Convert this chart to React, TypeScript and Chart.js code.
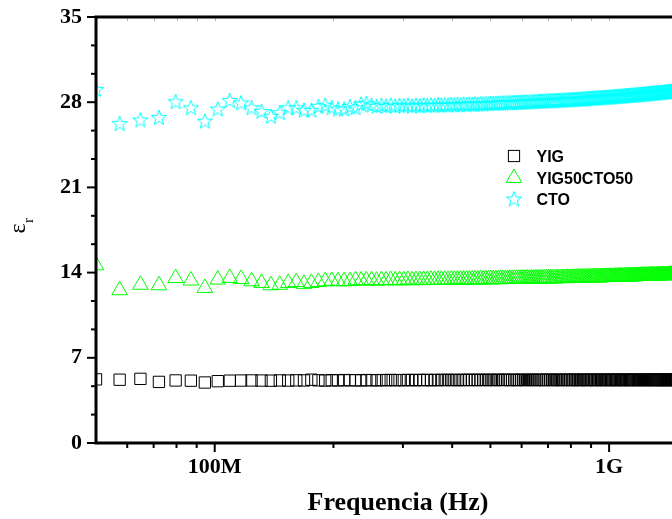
import React, { useEffect, useRef } from 'react';
import { Chart, registerables } from 'chart.js';

Chart.register(...registerables);

// Measurement frequencies (MHz) of the linear sweep visible in the plot
const freqMHz = [
  50.0, 57.4, 64.8, 72.2, 79.6, 87.0, 94.4, 101.8, 109.2, 116.6,
  124.0, 131.4, 138.8, 146.2, 153.6, 161.0, 168.4, 175.8, 183.2, 190.6,
  198.0, 205.4, 212.8, 220.2, 227.6, 235.0, 242.4, 249.8, 257.2, 264.6,
  272.0, 279.4, 286.8, 294.2, 301.6, 309.0, 316.4, 323.8, 331.2, 338.6,
  346.0, 353.4, 360.8, 368.2, 375.6, 383.0, 390.4, 397.8, 405.2, 412.6,
  420.0, 427.4, 434.8, 442.2, 449.6, 457.0, 464.4, 471.8, 479.2, 486.6,
  494.0, 501.4, 508.8, 516.2, 523.6, 531.0, 538.4, 545.8, 553.2, 560.6,
  568.0, 575.4, 582.8, 590.2, 597.6, 605.0, 612.4, 619.8, 627.2, 634.6,
  642.0, 649.4, 656.8, 664.2, 671.6, 679.0, 686.4, 693.8, 701.2, 708.6,
  716.0, 723.4, 730.8, 738.2, 745.6, 753.0, 760.4, 767.8, 775.2, 782.6,
  790.0, 797.4, 804.8, 812.2, 819.6, 827.0, 834.4, 841.8, 849.2, 856.6,
  864.0, 871.4, 878.8, 886.2, 893.6, 901.0, 908.4, 915.8, 923.2, 930.6,
  938.0, 945.4, 952.8, 960.2, 967.6, 975.0, 982.4, 989.8, 997.2, 1004.6,
  1012.0, 1019.4, 1026.8, 1034.2, 1041.6, 1049.0, 1056.4, 1063.8, 1071.2, 1078.6,
  1086.0, 1093.4, 1100.8, 1108.2, 1115.6, 1123.0, 1130.4, 1137.8, 1145.2, 1152.6,
  1160.0, 1167.4, 1174.8, 1182.2, 1189.6, 1197.0, 1204.4, 1211.8, 1219.2, 1226.6,
  1234.0, 1241.4, 1248.8, 1256.2, 1263.6, 1271.0, 1278.4, 1285.8, 1293.2, 1300.6,
  1308.0, 1315.4, 1322.8, 1330.2, 1337.6, 1345.0, 1352.4, 1359.8, 1367.2, 1374.6,
  1382.0, 1389.4, 1396.8, 1404.2, 1411.6, 1419.0, 1426.4, 1433.8, 1441.2, 1448.6,
  1456.0, 1463.4, 1470.8, 1478.2, 1485.6, 1493.0,
];

const yigValues = [
  5.23, 5.20, 5.27, 5.02, 5.14, 5.12, 4.97, 5.08, 5.12, 5.13,
  5.14, 5.13, 5.12, 5.14, 5.13, 5.15, 5.14, 5.20, 5.15, 5.13,
  5.16, 5.14, 5.17, 5.15, 5.16, 5.14, 5.17, 5.16, 5.15, 5.17,
  5.16, 5.18, 5.16, 5.17, 5.16, 5.18, 5.17, 5.16, 5.18, 5.17,
  5.18, 5.16, 5.18, 5.17, 5.18, 5.17, 5.19, 5.17, 5.18, 5.17,
  5.18, 5.17, 5.19, 5.18, 5.18, 5.17, 5.19, 5.18, 5.18, 5.17,
  5.19, 5.18, 5.18, 5.17, 5.19, 5.18, 5.18, 5.19, 5.18, 5.17,
  5.18, 5.19, 5.17, 5.18, 5.19, 5.18, 5.17, 5.19, 5.18, 5.18,
  5.19, 5.17, 5.18, 5.19, 5.18, 5.18, 5.17, 5.19, 5.18, 5.19,
  5.18, 5.17, 5.19, 5.18, 5.18, 5.19, 5.17, 5.18, 5.19, 5.18,
  5.18, 5.19, 5.17, 5.18, 5.19, 5.18, 5.18, 5.17, 5.19, 5.18,
  5.19, 5.18, 5.17, 5.18, 5.19, 5.18, 5.18, 5.19, 5.17, 5.18,
  5.18, 5.19, 5.18, 5.17, 5.19, 5.18, 5.18, 5.19, 5.18, 5.17,
  5.19, 5.18, 5.18, 5.19, 5.17, 5.18, 5.19, 5.18, 5.18, 5.19,
  5.17, 5.18, 5.19, 5.18, 5.18, 5.19, 5.17, 5.18, 5.19, 5.18,
  5.18, 5.19, 5.18, 5.17, 5.19, 5.18, 5.18, 5.19, 5.18, 5.17,
  5.19, 5.18, 5.18, 5.19, 5.17, 5.18, 5.19, 5.18, 5.18, 5.19,
  5.18, 5.17, 5.19, 5.18, 5.18, 5.19, 5.18, 5.17, 5.19, 5.18,
  5.18, 5.19, 5.17, 5.18, 5.19, 5.18, 5.18, 5.19, 5.18, 5.17,
  5.19, 5.18, 5.18, 5.19, 5.18, 5.18,
];

const yig50cto50Values = [
  14.6, 12.55, 13.0, 12.96, 13.55, 13.35, 12.74, 13.43, 13.56, 13.48,
  13.29, 13.15, 12.96, 13.0, 13.15, 13.23, 13.07, 13.15, 13.23, 13.29,
  13.32, 13.29, 13.29, 13.3, 13.37, 13.35, 13.37, 13.37, 13.34, 13.38,
  13.36, 13.39, 13.36, 13.38, 13.37, 13.40, 13.37, 13.39, 13.38, 13.40,
  13.39, 13.41, 13.39, 13.41, 13.40, 13.42, 13.40, 13.42, 13.41, 13.43,
  13.42, 13.43, 13.42, 13.44, 13.43, 13.45, 13.44, 13.45, 13.44, 13.46,
  13.45, 13.46, 13.45, 13.47, 13.46, 13.48, 13.47, 13.48, 13.47, 13.49,
  13.47, 13.49, 13.48, 13.50, 13.49, 13.50, 13.49, 13.51, 13.50, 13.51,
  13.50, 13.52, 13.51, 13.52, 13.52, 13.53, 13.52, 13.54, 13.53, 13.54,
  13.52, 13.54, 13.53, 13.55, 13.54, 13.55, 13.55, 13.56, 13.55, 13.57,
  13.55, 13.57, 13.56, 13.58, 13.57, 13.58, 13.58, 13.59, 13.58, 13.60,
  13.58, 13.60, 13.59, 13.61, 13.60, 13.61, 13.61, 13.62, 13.61, 13.63,
  13.60, 13.62, 13.62, 13.63, 13.63, 13.64, 13.64, 13.65, 13.64, 13.66,
  13.63, 13.65, 13.65, 13.66, 13.66, 13.67, 13.67, 13.68, 13.67, 13.69,
  13.66, 13.68, 13.68, 13.69, 13.69, 13.70, 13.70, 13.71, 13.70, 13.72,
  13.69, 13.71, 13.71, 13.72, 13.72, 13.73, 13.73, 13.74, 13.73, 13.75,
  13.72, 13.74, 13.74, 13.75, 13.75, 13.76, 13.76, 13.77, 13.76, 13.78,
  13.74, 13.76, 13.76, 13.77, 13.77, 13.78, 13.78, 13.79, 13.79, 13.80,
  13.77, 13.79, 13.79, 13.80, 13.80, 13.81, 13.81, 13.82, 13.82, 13.83,
  13.80, 13.82, 13.82, 13.83, 13.83, 13.84,
];

const ctoValues = [
  29.0, 26.2, 26.5, 26.7, 28.0, 27.5, 26.4, 27.4, 28.1, 27.9,
  27.5, 27.2, 26.8, 27.1, 27.5, 27.5, 27.3, 27.3, 27.6, 27.7,
  27.5, 27.4, 27.4, 27.6, 27.5, 27.8, 27.85, 27.7, 27.62, 27.7,
  27.64, 27.72, 27.62, 27.68, 27.66, 27.72, 27.63, 27.70, 27.66, 27.72,
  27.68, 27.73, 27.69, 27.74, 27.70, 27.75, 27.71, 27.76, 27.72, 27.77,
  27.74, 27.79, 27.75, 27.80, 27.77, 27.81, 27.79, 27.82, 27.80, 27.84,
  27.83, 27.86, 27.85, 27.88, 27.86, 27.89, 27.88, 27.91, 27.89, 27.92,
  27.91, 27.93, 27.93, 27.95, 27.94, 27.96, 27.96, 27.98, 27.97, 27.99,
  27.99, 28.01, 28.00, 28.03, 28.02, 28.04, 28.04, 28.06, 28.05, 28.07,
  28.07, 28.08, 28.08, 28.10, 28.10, 28.11, 28.12, 28.13, 28.13, 28.14,
  28.14, 28.16, 28.16, 28.18, 28.18, 28.19, 28.20, 28.21, 28.21, 28.22,
  28.22, 28.24, 28.24, 28.26, 28.26, 28.27, 28.28, 28.29, 28.29, 28.30,
  28.30, 28.32, 28.32, 28.34, 28.34, 28.35, 28.36, 28.37, 28.37, 28.38,
  28.38, 28.40, 28.40, 28.42, 28.42, 28.43, 28.44, 28.45, 28.45, 28.46,
  28.46, 28.48, 28.48, 28.50, 28.50, 28.51, 28.52, 28.53, 28.53, 28.54,
  28.54, 28.56, 28.56, 28.58, 28.58, 28.59, 28.60, 28.61, 28.61, 28.62,
  28.62, 28.64, 28.64, 28.66, 28.66, 28.67, 28.68, 28.69, 28.69, 28.70,
  28.70, 28.72, 28.72, 28.74, 28.74, 28.75, 28.76, 28.77, 28.77, 28.78,
  28.78, 28.80, 28.80, 28.82, 28.83, 28.83, 28.84, 28.85, 28.86, 28.86,
  28.87, 28.88, 28.88, 28.90, 28.90, 28.91,
];

const seriesLabels = ['YIG', 'YIG50CTO50', 'CTO'];
const seriesColors = ['#000000', '#00ff00', '#00ffff'];

const xRange = [5e7, 1.7e9];
const xMajorTickValues = [1e8, 1e9];
const xMajorTickLabels = ['100M', '1G'];
const xMinorTickValues = [6e7, 7e7, 8e7, 9e7, 2e8, 3e8, 4e8, 5e8, 6e8, 7e8, 8e8, 9e8];
const yRange = [0, 35];
const yMajorTickValues = [0, 7, 14, 21, 28, 35];
const yMinorTickValues = [7 / 3, 14 / 3, 28 / 3, 35 / 3, 49 / 3, 56 / 3, 70 / 3, 77 / 3, 91 / 3, 98 / 3];
const xTitle = 'Frequencia (Hz)';
const yTitleMain = 'ε';
const yTitleSub = 'r';

const SERIF = '"Liberation Serif", "Times New Roman", serif';
const SANS = '"Liberation Sans", Arial, sans-serif';

function makeStar(color: string): HTMLCanvasElement {
  const c = document.createElement('canvas');
  c.width = 18;
  c.height = 18;
  const g = c.getContext('2d')!;
  g.strokeStyle = color;
  g.lineWidth = 1;
  g.beginPath();
  for (let k = 0; k < 10; k++) {
    const r = k % 2 === 0 ? 8 : 3.3;
    const a = -Math.PI / 2 + (k * Math.PI) / 5;
    const px = 9 + r * Math.cos(a);
    const py = 9 + r * Math.sin(a);
    if (k === 0) g.moveTo(px, py);
    else g.lineTo(px, py);
  }
  g.closePath();
  g.stroke();
  return c;
}

export default function App() {
  const canvasRef = useRef<HTMLCanvasElement | null>(null);

  useEffect(() => {
    const canvas = canvasRef.current;
    if (!canvas) return;
    const star = makeStar(seriesColors[2]);
    const seriesValues = [yigValues, yig50cto50Values, ctoValues];
    const styles: any[] = ['rect', 'triangle', star];
    const radii = [8, 9, 8];

    const datasets = seriesLabels.map((label, s) => ({
      label,
      data: freqMHz.map((f, i) => ({ x: f * 1e6, y: seriesValues[s][i] })),
      showLine: false,
      pointStyle: styles[s],
      pointRadius: radii[s],
      pointHoverRadius: radii[s],
      pointBorderWidth: 1,
      pointBorderColor: seriesColors[s],
      pointBackgroundColor: 'rgba(0,0,0,0)',
      borderColor: seriesColors[s],
      backgroundColor: 'rgba(0,0,0,0)',
      clip: 0,
    }));

    const framePlugin = {
      id: 'frameTicks',
      afterDatasetsDraw(chart: any) {
        const { ctx, chartArea: a, scales } = chart;
        const xs = scales.x;
        const ys = scales.y;
        ctx.save();
        ctx.strokeStyle = '#000';
        ctx.lineCap = 'butt';
        ctx.lineWidth = 2;
        const seg = (x1: number, y1: number, x2: number, y2: number) => {
          ctx.beginPath();
          ctx.moveTo(x1, y1);
          ctx.lineTo(x2, y2);
          ctx.stroke();
        };
        yMajorTickValues.forEach((v) => {
          const py = ys.getPixelForValue(v);
          seg(a.left - 9, py, a.left, py);
        });
        yMinorTickValues.forEach((v) => {
          const py = ys.getPixelForValue(v);
          seg(a.left - 5, py, a.left, py);
        });
        xMajorTickValues.forEach((v) => {
          const px = xs.getPixelForValue(v);
          seg(px, a.bottom, px, a.bottom + 9);
        });
        xMinorTickValues.forEach((v) => {
          const px = xs.getPixelForValue(v);
          seg(px, a.bottom, px, a.bottom + 5);
        });
        // faint inner ticks on the top edge
        ctx.strokeStyle = '#b8b8b8';
        ctx.lineWidth = 1;
        [...xMinorTickValues, ...xMajorTickValues].forEach((v) => {
          const px = Math.round(xs.getPixelForValue(v)) + 0.5;
          seg(px, a.top, px, a.top + 4);
        });
        // frame
        ctx.strokeStyle = '#000';
        ctx.lineWidth = 3;
        ctx.lineJoin = 'miter';
        ctx.beginPath();
        ctx.moveTo(a.right, a.top);
        ctx.lineTo(a.left, a.top);
        ctx.lineTo(a.left, a.bottom);
        ctx.lineTo(a.right, a.bottom);
        ctx.stroke();
        ctx.restore();
      },
    };

    const legendPlugin = {
      id: 'insideLegend',
      afterDraw(chart: any) {
        const ctx = chart.ctx;
        const mx = 514;
        const rows = [156, 178, 199.5];
        const tx = 536.5;
        ctx.save();
        ctx.lineWidth = 1;
        ctx.strokeStyle = seriesColors[0];
        const h = 5.6;
        ctx.strokeRect(mx - h, rows[0] - h, 2 * h, 2 * h);
        ctx.strokeStyle = seriesColors[1];
        ctx.beginPath();
        const r = 9;
        for (let k = 0; k < 3; k++) {
          const ang = (k * 2 * Math.PI) / 3;
          const px = mx + Math.sin(ang) * r;
          const py = rows[1] - Math.cos(ang) * r;
          if (k === 0) ctx.moveTo(px, py);
          else ctx.lineTo(px, py);
        }
        ctx.closePath();
        ctx.stroke();
        ctx.drawImage(star, mx - star.width / 2, rows[2] - star.height / 2);
        ctx.fillStyle = '#000';
        ctx.font = `bold 16px ${SANS}`;
        ctx.textAlign = 'left';
        ctx.textBaseline = 'alphabetic';
        seriesLabels.forEach((lab, i) => {
          ctx.fillText(lab, tx, rows[i] + 5.8);
        });
        ctx.restore();
      },
    };

    const yTitlePlugin = {
      id: 'yTitle',
      afterDraw(chart: any) {
        const { ctx, chartArea: a } = chart;
        ctx.save();
        ctx.fillStyle = '#000';
        ctx.translate(25, (a.top + a.bottom) / 2 - 4);
        ctx.rotate(-Math.PI / 2);
        ctx.font = `24px ${SERIF}`;
        const wMain = ctx.measureText(yTitleMain).width;
        ctx.font = `15px ${SERIF}`;
        const wSub = ctx.measureText(yTitleSub).width;
        const start = -(wMain + wSub) / 2;
        ctx.textAlign = 'left';
        ctx.textBaseline = 'alphabetic';
        ctx.font = `24px ${SERIF}`;
        ctx.fillText(yTitleMain, start, 0);
        ctx.font = `15px ${SERIF}`;
        ctx.fillText(yTitleSub, start + wMain + 0.5, 7.5);
        ctx.restore();
      },
    };

    const tickFont = { family: SERIF, size: 22, weight: 'bold' as const };

    const chart = new Chart(canvas, {
      type: 'scatter',
      data: { datasets: datasets as any },
      options: {
        animation: false,
        responsive: false,
        maintainAspectRatio: false,
        events: [],
        layout: { autoPadding: false, padding: { top: 17, left: 0, right: 0, bottom: 0 } },
        plugins: {
          legend: { display: false },
          tooltip: { enabled: false },
        },
        scales: {
          x: {
            type: 'logarithmic',
            position: 'bottom',
            min: xRange[0],
            max: xRange[1],
            afterBuildTicks: (s: any) => {
              s.ticks = xMajorTickValues.map((v) => ({ value: v }));
            },
            afterFit: (s: any) => {
              s.height = 76;
              s.paddingLeft = 0;
              s.paddingRight = 0;
            },
            grid: {
              display: true,
              drawOnChartArea: false,
              drawTicks: true,
              tickLength: 9,
              tickColor: 'rgba(0,0,0,0)',
              color: 'rgba(0,0,0,0)',
            },
            border: { display: false },
            ticks: {
              autoSkip: false,
              maxRotation: 0,
              minRotation: 0,
              padding: 2,
              color: '#000',
              font: tickFont,
              callback: (_v: any, i: number) => xMajorTickLabels[i] ?? '',
            },
            title: {
              display: true,
              text: xTitle,
              color: '#000',
              font: { family: SERIF, size: 26, weight: 'bold' },
              padding: { top: 0, bottom: 0 },
            },
          },
          y: {
            type: 'linear',
            position: 'left',
            min: yRange[0],
            max: yRange[1],
            afterBuildTicks: (s: any) => {
              s.ticks = yMajorTickValues.map((v) => ({ value: v }));
            },
            afterFit: (s: any) => {
              s.width = 96;
              s.paddingTop = 0;
              s.paddingBottom = 0;
            },
            grid: {
              display: true,
              drawOnChartArea: false,
              drawTicks: true,
              tickLength: 11,
              tickColor: 'rgba(0,0,0,0)',
              color: 'rgba(0,0,0,0)',
            },
            border: { display: false },
            ticks: {
              padding: 3,
              color: '#000',
              font: tickFont,
              callback: (v: any) => String(v),
            },
            title: { display: false },
          },
        },
      } as any,
      plugins: [framePlugin, legendPlugin, yTitlePlugin],
    });

    return () => {
      chart.destroy();
    };
  }, []);

  return (
    <div
      style={{
        position: 'fixed',
        left: 0,
        top: 0,
        width: 672,
        height: 519,
        overflow: 'hidden',
        background: '#fff',
      }}
    >
      <canvas ref={canvasRef} width={700} height={519} style={{ display: 'block', width: 700, height: 519 }} />
    </div>
  );
}
